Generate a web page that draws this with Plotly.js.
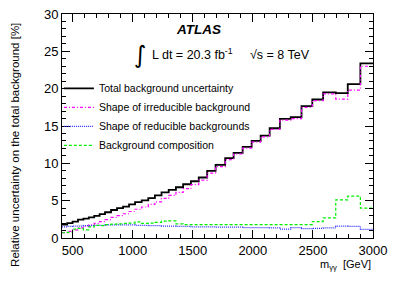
<!DOCTYPE html>
<html>
<head>
<meta charset="utf-8">
<script src="https://cdn.plot.ly/plotly-3.0.1.min.js"></script>
<style>html,body{margin:0;padding:0;background:#fff;}#plot{width:394px;height:283px;}</style>
</head>
<body>
<div id="plot"></div>
<script>
// Bin edges in m_gammagamma [GeV]
var binEdges = [412, 455, 500, 545, 590, 635, 680, 725, 770, 820, 870, 920, 970, 1020, 1075, 1130, 1185, 1240, 1300, 1360, 1420, 1485, 1550, 1620, 1690, 1770, 1840, 1915, 1990, 2065, 2140, 2225, 2315, 2405, 2495, 2585, 2690, 2790, 2895, 3000];

// Relative uncertainties [%] per bin
var totalUnc = [1.8, 2.0, 2.2, 2.45, 2.6, 2.75, 2.95, 3.2, 3.45, 3.75, 4.0, 4.2, 4.5, 4.8, 5.05, 5.35, 5.7, 6.1, 6.45, 6.8, 7.2, 7.6, 8.1, 9.0, 9.8, 10.7, 11.4, 12.2, 13.0, 13.7, 14.7, 15.95, 16.2, 17.65, 18.55, 19.5, 19.4, 20.6, 23.4];
var irreducible = [0.7, 0.9, 1.1, 1.35, 1.55, 1.75, 1.95, 2.2, 2.45, 2.75, 3.0, 3.25, 3.55, 3.85, 4.15, 4.5, 4.85, 5.3, 5.7, 6.1, 6.6, 7.15, 7.75, 8.7, 9.55, 10.5, 11.25, 12.05, 12.85, 13.55, 14.55, 15.8, 16.0, 17.5, 18.4, 19.3, 18.6, 19.8, 23.0];
var reducible = [1.5, 1.55, 1.6, 1.6, 1.65, 1.65, 1.7, 1.7, 1.75, 1.75, 1.75, 1.75, 1.75, 1.7, 1.7, 1.65, 1.65, 1.6, 1.6, 1.55, 1.55, 1.5, 1.5, 1.5, 1.45, 1.45, 1.45, 1.4, 1.4, 1.4, 1.35, 1.2, 1.4, 1.25, 1.3, 1.35, 1.6, 1.55, 1.15];
var composition = [0.7, 0.75, 1.2, 1.3, 1.1, 1.5, 1.7, 1.65, 1.8, 1.85, 1.9, 1.95, 2.0, 2.15, 1.95, 2.0, 2.1, 2.25, 2.3, 1.9, 1.8, 1.8, 1.8, 1.8, 1.8, 1.8, 1.8, 1.8, 1.8, 1.8, 1.8, 1.8, 1.8, 1.8, 2.2, 2.7, 5.1, 5.6, 4.0];

var seriesNames = ["Total background uncertainty", "Shape of irreducible background", "Shape of reducible backgrounds", "Background composition"];
var xTicks = [500, 1000, 1500, 2000, 2500, 3000];
var yTicks = [0, 5, 10, 15, 20, 25, 30];

function stepY(v) { return v.concat([v[v.length - 1]]); }

var FONT = "Liberation Sans, Arial, Helvetica, sans-serif";

var traces = [
  {x: binEdges, y: stepY(totalUnc), name: seriesNames[0], mode: "lines",
   line: {shape: "hv", color: "#000000", width: 1.8}},
  {x: binEdges, y: stepY(irreducible), name: seriesNames[1], mode: "lines",
   line: {shape: "hv", color: "#ff00ff", width: 1.2, dash: "3px,2px,1px,2px"}},
  {x: binEdges, y: stepY(reducible), name: seriesNames[2], mode: "lines",
   line: {shape: "hv", color: "#2a2aff", width: 1.2, dash: "1px,1px"}},
  {x: binEdges, y: stepY(composition), name: seriesNames[3], mode: "lines",
   line: {shape: "hv", color: "#00ee00", width: 1.2, dash: "3px,2px"}}
];

var layout = {
  width: 394, height: 283,
  margin: {l: 62, r: 21, t: 14, b: 45, pad: 0},
  paper_bgcolor: "#ffffff", plot_bgcolor: "#ffffff",
  font: {family: FONT, size: 13, color: "#000"},
  showlegend: true,
  legend: {x: -0.01, y: 0.733, xanchor: "left", yanchor: "top", bgcolor: "rgba(0,0,0,0)",
           borderwidth: 0, font: {family: FONT, size: 10.5, color: "#000"}, tracegroupgap: 0},
  xaxis: {range: [412, 3000], tickvals: xTicks, ticktext: xTicks.map(String),
          ticks: "inside", ticklen: 8, tickwidth: 1, tickcolor: "#000",
          minor: {dtick: 100, tick0: 0, ticks: "inside", ticklen: 4, tickcolor: "#000"},
          showline: true, linecolor: "#000", linewidth: 1, mirror: "ticks",
          showgrid: false, zeroline: false, tickfont: {family: FONT, size: 13}},
  yaxis: {range: [0, 30], tickvals: yTicks, ticktext: yTicks.map(String),
          ticks: "inside", ticklen: 8, tickwidth: 1, tickcolor: "#000",
          minor: {dtick: 1, tick0: 0, ticks: "inside", ticklen: 4, tickcolor: "#000"},
          showline: true, linecolor: "#000", linewidth: 1, mirror: "ticks",
          showgrid: false, zeroline: false, tickfont: {family: FONT, size: 13}},
  annotations: [
    {xref: "paper", yref: "paper", x: 0.44, y: 0.933, text: "<b><i>ATLAS</i></b>", showarrow: false,
     xanchor: "center", yanchor: "middle", font: {family: FONT, size: 13.5}},
    {xref: "paper", yref: "paper", x: 0.251, y: 0.815, text: "∫", showarrow: false,
     xanchor: "center", yanchor: "middle", font: {family: "DejaVu Sans, sans-serif", size: 24}},
    {xref: "paper", yref: "paper", x: 0.283, y: 0.82, text: "L dt = 20.3 fb<sup>-1</sup>", showarrow: false,
     xanchor: "left", yanchor: "middle", font: {family: FONT, size: 12.5}},
    {xref: "paper", yref: "paper", x: 0.598, y: 0.815, text: "√s = 8 TeV", showarrow: false,
     xanchor: "left", yanchor: "middle", font: {family: FONT, size: 12.5}},
    {xref: "paper", yref: "paper", x: 1.0, y: -0.12, text: "m<sub>γγ</sub>  [GeV]", showarrow: false,
     xanchor: "right", yanchor: "middle", font: {family: FONT, size: 11}},
    {xref: "paper", yref: "paper", x: -0.152, y: 0.968, text: "Relative uncertainty on the total background [%]",
     showarrow: false, textangle: -90, xanchor: "center", yanchor: "top", font: {family: FONT, size: 11.5}}
  ]
};

Plotly.newPlot("plot", traces, layout, {staticPlot: true, displayModeBar: false});
</script>
</body>
</html>
